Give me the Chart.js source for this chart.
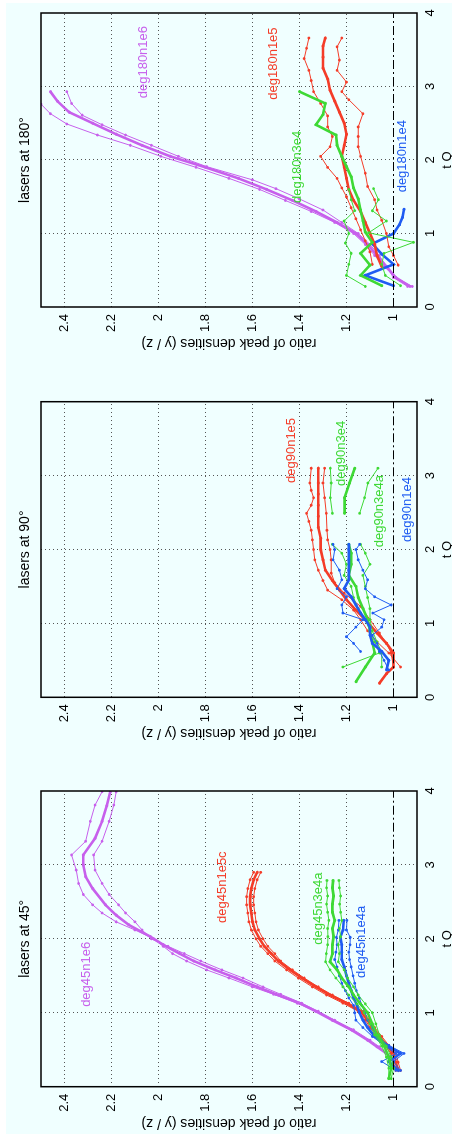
<!DOCTYPE html>
<html>
<head>
<meta charset="utf-8">
<script src="https://cdn.jsdelivr.net/npm/chart.js@4.4.1/dist/chart.umd.min.js"></script>
<style>
html, body { margin: 0; padding: 0; background: #fff; }
body { width: 452px; height: 1147px; position: relative; overflow: hidden; }
#page { position: absolute; left: 6px; top: 3px; width: 446px; height: 1131px; background: #f0ffff; }
canvas { position: absolute; transform-origin: 0 0; transform: rotate(-90deg); }
</style>
</head>
<body>
<div id="page"></div>
<canvas id="c180" width="377" height="446" style="left:6px;top:380px"></canvas>
<canvas id="c90" width="380" height="446" style="left:6px;top:760px"></canvas>
<canvas id="c45" width="374" height="446" style="left:6px;top:1134px"></canvas>
<script>
// axis ticks
var tqTicks = [0, 1, 2, 3, 4];
var ratioTicks = [1, 1.2, 1.4, 1.6, 1.8, 2, 2.2, 2.4];
var refRatio = 1;

// ---- lasers at 180 ----
var p180PurpleMidTq = [0.28,0.4,0.55,0.7,0.85,1.0,1.15,1.3,1.45,1.6,1.75,1.9,2.05,2.2,2.35,2.5,2.65,2.8,2.93];
var p180PurpleMid   = [0.93,0.99,1.03,1.07,1.11,1.16,1.24,1.33,1.43,1.54,1.66,1.80,1.95,2.07,2.18,2.28,2.38,2.43,2.46];
var p180PurpleHiTq  = [0.28,0.4,0.55,0.7,0.85,1.0,1.15,1.3,1.45,1.6,1.75,1.9,2.05,2.2,2.34,2.49,2.63,2.76];
var p180PurpleHi    = [0.92,0.99,1.04,1.08,1.12,1.17,1.25,1.35,1.46,1.57,1.70,1.84,1.99,2.12,2.26,2.39,2.46,2.50];
var p180PurpleLoTq  = [0.28,0.4,0.55,0.7,0.85,1.0,1.15,1.32,1.47,1.61,1.73,1.91,2.05,2.2,2.34,2.48,2.61,2.77,2.93];
var p180PurpleLo    = [0.94,1.0,1.03,1.06,1.10,1.15,1.22,1.30,1.40,1.50,1.60,1.795,1.915,2.03,2.14,2.24,2.325,2.37,2.39];

var p180RedMidTq = [0.55,0.7,0.85,1.0,1.15,1.3,1.45,1.6,1.75,1.9,2.05,2.2,2.35,2.5,2.65,2.8,2.95,3.1,3.25,3.4,3.55,3.66];
var p180RedMid   = [1.05,1.07,1.08,1.10,1.12,1.14,1.17,1.19,1.20,1.21,1.22,1.21,1.20,1.21,1.23,1.25,1.27,1.28,1.30,1.30,1.30,1.29];
var p180RedHiTq  = [0.58,0.75,0.9,1.05,1.2,1.35,1.5,1.62,1.75,1.9,2.05,2.18,2.32,2.45,2.6,2.77,2.93,3.08,3.22,3.38,3.52,3.66];
var p180RedHi    = [1.09,1.10,1.12,1.14,1.16,1.18,1.20,1.22,1.24,1.28,1.31,1.27,1.26,1.28,1.28,1.31,1.34,1.35,1.36,1.38,1.37,1.36];
var p180RedLoTq  = [0.57,0.7,0.82,1.0,1.18,1.32,1.46,1.64,1.82,2.05,2.18,2.32,2.45,2.63,2.82,2.93,3.06,3.22,3.36,3.54,3.66];
var p180RedLo    = [0.98,1.0,1.02,1.03,1.05,1.07,1.08,1.11,1.12,1.14,1.15,1.15,1.15,1.13,1.19,1.22,1.20,1.24,1.23,1.24,1.22];

var p180GreenMidTq = [0.29,0.43,0.57,0.73,0.88,1.02,1.17,1.32,1.47,1.62,1.77,1.91,2.05,2.2,2.34,2.48,2.62,2.77,2.93];
var p180GreenMid   = [1.05,1.14,1.10,1.14,1.09,1.12,1.13,1.14,1.15,1.17,1.18,1.20,1.22,1.24,1.245,1.33,1.30,1.29,1.40];
var p180GreenHiTq  = [0.28,0.43,0.58,0.73,0.87,1.0,1.17,1.31,1.46,1.6];
var p180GreenHi    = [1.12,1.20,1.19,1.18,1.205,1.19,1.21,1.165,1.18,1.19];
var p180GreenLoTq  = [0.29,0.43,0.58,0.73,0.88,1.01,1.17,1.31,1.46,1.61];
var p180GreenLo    = [0.97,1.035,1.05,1.04,0.915,1.106,1.03,1.09,1.064,1.085];

var p180BlueTq = [0.29,0.43,0.58,0.72,0.86,1.0,1.12,1.22,1.33];
var p180Blue   = [1.0,1.12,1.0,1.05,1.09,1.0,0.975,0.962,0.955];

// ---- lasers at 90 ----
var p90RedMidTq = [0.19,0.32,0.41,0.6,0.73,0.87,1.05,1.18,1.32,1.45,1.58,1.72,1.86,2.0,2.15,2.3,2.45,2.6,2.75,2.9,3.1];
var p90RedMid   = [1.06,1.03,1.0,1.0,1.03,1.07,1.12,1.16,1.20,1.23,1.26,1.29,1.30,1.31,1.31,1.32,1.32,1.32,1.32,1.32,1.32];
var p90RedHiTq  = [0.41,0.6,0.75,0.9,1.05,1.18,1.32,1.45,1.58,1.72,1.86,2.0,2.13,2.26,2.38,2.49,2.6,2.7,2.8,2.9,3.1];
var p90RedHi    = [0.97,1.02,1.07,1.11,1.14,1.17,1.22,1.28,1.30,1.32,1.335,1.34,1.345,1.35,1.36,1.37,1.35,1.34,1.35,1.356,1.35];
var p90RedLoTq  = [0.41,0.6,0.73,0.87,1.05,1.23,1.41,1.55,1.68,1.86,2.0,2.13,2.26,2.49,2.7,2.9,3.1];
var p90RedLo    = [1.0,1.01,1.03,1.06,1.10,1.14,1.21,1.25,1.265,1.265,1.27,1.28,1.283,1.286,1.293,1.30,1.293];

var p90GreenLowTq  = [0.41,0.6,0.75,0.9,1.05,1.2,1.35,1.5,1.65,1.8,1.95,2.07];
var p90GreenMidTq  = [0.21,0.41,0.6,0.75,0.9,1.05,1.2,1.35,1.5,1.65,1.8,1.95,2.07];
var p90GreenMid    = [1.16,1.12,1.08,1.09,1.10,1.11,1.13,1.15,1.16,1.19,1.18,1.18,1.19];
var p90GreenHi     = [1.215,1.06,1.08,1.10,1.12,1.15,1.17,1.18,1.21,1.20,1.22,1.26];
var p90GreenLo     = [1.05,1.05,1.07,1.09,1.10,1.10,1.11,1.12,1.13,1.10,1.12,1.14];
var p90GreenTopTq  = [2.49,2.7,2.9,3.1];
var p90GreenTopMid = [1.208,1.208,1.187,1.165];
var p90GreenTopHi  = [1.26,1.269,1.265,1.269];
var p90GreenTopLo  = [1.144,1.123,1.109,1.066];

var p90BlueTq     = [0.37,0.5,0.62,0.73,0.84,0.95,1.05,1.14,1.25,1.36,1.47,1.59,1.72,1.86,2.0,2.07];
var p90BlueMid    = [1.03,1.02,1.05,1.09,1.10,1.10,1.12,1.14,1.16,1.18,1.21,1.19,1.19,1.19,1.19,1.19];
var p90BlueLo     = [1.02,1.04,1.06,1.07,1.09,1.05,1.04,1.088,1.01,1.08,1.12,1.11,1.13,1.15,1.16,1.144];
var p90BlueHiTq   = [0.62,0.73,0.82,0.95,1.05,1.14,1.25,1.36,1.47,1.59,1.72,1.86,2.0,2.07];
var p90BlueHi     = [1.14,1.17,1.20,1.16,1.13,1.215,1.22,1.20,1.24,1.22,1.23,1.257,1.25,1.257];

// ---- lasers at 45 ----
var p45PurpleMidTq = [0.36,0.45,0.54,0.63,0.77,0.9,1.02,1.13,1.25,1.35,1.47,1.58,1.7,1.8,1.92,2.03,2.19,2.32,2.46,2.68,2.84,3.0,3.135,3.36,3.59,3.8,3.99];
var p45PurpleMid   = [1.0,1.03,1.07,1.11,1.18,1.26,1.33,1.40,1.50,1.58,1.67,1.76,1.85,1.91,1.98,2.035,2.127,2.18,2.226,2.28,2.31,2.32,2.32,2.27,2.24,2.22,2.205];
var p45PurpleSideTq = [0.36,0.45,0.54,0.63,0.77,0.9,1.02,1.13,1.25,1.35,1.47,1.58,1.7,1.8,1.9,2.0,2.12,2.23,2.35,2.46,2.6,2.75,2.93,3.135,3.32,3.59,3.81,3.99];
var p45PurpleHi    = [1.0,1.03,1.07,1.11,1.18,1.26,1.33,1.41,1.51,1.60,1.70,1.795,1.88,1.94,1.98,2.02,2.10,2.18,2.24,2.28,2.32,2.34,2.35,2.37,2.31,2.29,2.27,2.24];
var p45PurpleLo    = [1.0,1.03,1.06,1.10,1.17,1.25,1.32,1.39,1.48,1.555,1.64,1.73,1.82,1.89,1.96,2.03,2.07,2.10,2.14,2.17,2.21,2.24,2.27,2.276,2.24,2.21,2.19,2.18];

var p45RedTq  = [0.22,0.33,0.45,0.56,0.68,0.8,0.9,1.02,1.13,1.24,1.35,1.47,1.58,1.7,1.8,1.9,2.0,2.12,2.23,2.35,2.46,2.57,2.68,2.8,2.9];
var p45RedMid = [0.98,0.99,1.0,1.03,1.06,1.09,1.11,1.14,1.20,1.27,1.33,1.39,1.44,1.49,1.52,1.55,1.57,1.59,1.60,1.605,1.61,1.61,1.605,1.595,1.58];
var p45RedHi  = [0.99,1.0,1.01,1.04,1.07,1.10,1.12,1.15,1.215,1.285,1.345,1.405,1.455,1.505,1.535,1.565,1.585,1.605,1.615,1.62,1.625,1.625,1.62,1.61,1.595];
var p45RedLo  = [0.97,0.98,0.99,1.02,1.05,1.08,1.10,1.13,1.19,1.26,1.32,1.38,1.43,1.48,1.505,1.535,1.555,1.575,1.585,1.59,1.595,1.595,1.59,1.58,1.565];

var p45GreenTq  = [0.11,0.25,0.4,0.55,0.7,0.85,1.0,1.12,1.24,1.35,1.47,1.58,1.69,1.8,1.92,2.03,2.14,2.25,2.36,2.47,2.58,2.69,2.79];
var p45GreenMid = [1.02,1.01,1.02,1.04,1.07,1.09,1.11,1.14,1.17,1.19,1.22,1.24,1.27,1.26,1.26,1.255,1.26,1.25,1.26,1.26,1.255,1.26,1.257];
var p45GreenHi  = [1.02,1.02,1.03,1.05,1.08,1.10,1.125,1.155,1.19,1.215,1.245,1.27,1.289,1.286,1.28,1.279,1.28,1.275,1.28,1.285,1.28,1.285,1.283];
var p45GreenLo  = [1.01,1.0,1.01,1.03,1.06,1.075,1.09,1.12,1.15,1.17,1.195,1.21,1.235,1.23,1.235,1.225,1.23,1.22,1.225,1.229,1.225,1.23,1.232];

var p45BlueTq  = [0.22,0.34,0.45,0.56,0.68,0.8,0.9,1.0,1.1,1.2,1.3,1.4,1.5,1.62,1.72,1.82,1.92,2.02,2.12,2.25];
var p45BlueMid = [0.98,1.02,0.97,1.03,1.08,1.11,1.13,1.145,1.155,1.17,1.18,1.19,1.20,1.21,1.22,1.22,1.22,1.226,1.215,1.212];
var p45BlueHi  = [0.99,1.05,0.99,1.04,1.09,1.13,1.16,1.165,1.17,1.19,1.205,1.22,1.23,1.24,1.25,1.245,1.24,1.243,1.235,1.232];
var p45BlueLo  = [0.97,1.0,0.955,1.02,1.07,1.09,1.11,1.12,1.135,1.145,1.158,1.165,1.172,1.18,1.187,1.19,1.185,1.184,1.20,1.198];

// curve labels (text, start tQ, ratio)
var names180 = ['deg180n1e6', 'deg180n1e5', 'deg180n3e4', 'deg180n1e4'];
var labelTq180 = [2.84, 2.82, 1.415, 1.56];
var labelR180 = [2.065, 1.513, 1.407, 0.96];
var names90 = ['deg90n1e5', 'deg90n3e4', 'deg90n3e4a', 'deg90n1e4'];
var labelTq90 = [2.9, 2.86, 2.03, 2.1];
var labelR90 = [1.433, 1.22, 1.06, 0.94];
var names45 = ['deg45n1e6', 'deg45n1e5c', 'deg45n3e4a', 'deg45n1e4a'];
var labelTq45 = [1.08, 2.215, 1.92, 1.47];
var labelR45 = [2.307, 1.73, 1.32, 1.136];

var FONT = '"Liberation Sans", Arial, Helvetica, sans-serif';
var PURPLE = '#c760ec', RED = '#f43c28', GREEN = '#3ed935', BLUE = '#1f5cf2';
Chart.defaults.font.family = FONT;

function line(tq, r, color, thick) {
    return {
        data: tq.map(function(t, i) { return {x: t, y: r[i]}; }),
        borderColor: color,
        backgroundColor: color,
        borderWidth: thick ? 2.6 : 1,
        pointRadius: thick ? 1.5 : 1.4,
        pointBorderWidth: 0,
        showLine: true,
        tension: 0
    };
}

function refLine() {
    return {
        data: [{x: tqTicks[0], y: refRatio}, {x: tqTicks[tqTicks.length - 1], y: refRatio}],
        borderColor: '#000', borderWidth: 1.2, borderDash: [9, 3, 2, 3],
        pointRadius: 0, showLine: true
    };
}

// frame, titles and curve labels
var textPlugin = {
    id: 'texts',
    afterDraw: function(chart, args, opts) {
        var ctx = chart.ctx, a = chart.chartArea, sx = chart.scales.x, sy = chart.scales.y;
        var cx = (a.left + a.right) / 2;
        ctx.save();
        ctx.strokeStyle = '#000';
        ctx.lineWidth = 1.5;
        ctx.strokeRect(a.left, a.top, a.right - a.left, a.bottom - a.top);
        ctx.fillStyle = '#000';
        ctx.textAlign = 'center';
        ctx.textBaseline = 'middle';
        ctx.font = '14px ' + FONT;
        ctx.fillText(opts.title, cx, 19);
        ctx.font = '13px ' + FONT;
        ctx.fillText('t Q', cx, 441);
        ctx.save();
        ctx.translate(a.left - 36, (a.top + a.bottom) / 2);
        ctx.rotate(-Math.PI / 2);
        ctx.font = '14px ' + FONT;
        ctx.fillText('ratio of peak densities (y / z)', 0, 0);
        ctx.restore();
        ctx.textAlign = 'left';
        ctx.font = '13px ' + FONT;
        opts.names.forEach(function(n, i) {
            ctx.fillStyle = opts.colors[i];
            ctx.fillText(n, sx.getPixelForValue(opts.tq[i]), sy.getPixelForValue(opts.r[i]));
        });
        ctx.restore();
    }
};

function gridColor(skip) {
    return function(c) {
        if (c.tick && skip.indexOf(c.tick.value) >= 0) return 'rgba(0,0,0,0)';
        return '#555';
    };
}

function makePanel(id, plotLeft, plotRight, datasets, texts) {
    var canvas = document.getElementById(id);
    new Chart(canvas, {
        type: 'scatter',
        data: {datasets: datasets},
        options: {
            responsive: false,
            animation: false,
            devicePixelRatio: 1,
            layout: {padding: {left: plotLeft - 30, right: canvas.width - plotRight, top: 35, bottom: 15}},
            plugins: {legend: {display: false}, tooltip: {enabled: false}, texts: texts},
            scales: {
                x: {
                    type: 'linear', min: 0, max: 4,
                    afterBuildTicks: function(s) { s.ticks = tqTicks.map(function(v) { return {value: v}; }); },
                    afterFit: function(s) { s.height = 20; },
                    grid: {color: gridColor([0, 4]), lineWidth: 1, drawTicks: false},
                    border: {display: false, dash: [1, 3]},
                    ticks: {padding: 6, color: '#000', font: {size: 13}, maxRotation: 0}
                },
                y: {
                    type: 'linear', min: 0.9, max: 2.5,
                    afterBuildTicks: function(s) { s.ticks = ratioTicks.map(function(v) { return {value: v}; }); },
                    afterFit: function(s) { s.width = 30; },
                    grid: {color: gridColor([refRatio]), lineWidth: 1, drawTicks: false},
                    border: {display: false, dash: [1, 3]},
                    ticks: {padding: 7, color: '#000', font: {size: 13}, callback: function(v) { return String(v); }}
                }
            }
        },
        plugins: [textPlugin]
    });
}

makePanel('c180', 73, 367, [
    refLine(),
    line(p180GreenHiTq, p180GreenHi, GREEN), line(p180GreenLoTq, p180GreenLo, GREEN),
    line(p180GreenMidTq, p180GreenMid, GREEN, true),
    line(p180RedHiTq, p180RedHi, RED), line(p180RedLoTq, p180RedLo, RED),
    line(p180RedMidTq, p180RedMid, RED, true),
    line(p180BlueTq, p180Blue, BLUE, true),
    line(p180PurpleHiTq, p180PurpleHi, PURPLE), line(p180PurpleLoTq, p180PurpleLo, PURPLE),
    line(p180PurpleMidTq, p180PurpleMid, PURPLE, true)
], {title: 'lasers at 180\u00B0', names: names180, tq: labelTq180, r: labelR180, colors: [PURPLE, RED, GREEN, BLUE]});

makePanel('c90', 62.7, 358.3, [
    refLine(),
    line(p90BlueHiTq, p90BlueHi, BLUE), line(p90BlueTq, p90BlueLo, BLUE),
    line(p90BlueTq, p90BlueMid, BLUE, true),
    line(p90GreenLowTq, p90GreenHi, GREEN), line(p90GreenLowTq, p90GreenLo, GREEN),
    line(p90GreenMidTq, p90GreenMid, GREEN, true),
    line(p90GreenTopTq, p90GreenTopHi, GREEN), line(p90GreenTopTq, p90GreenTopLo, GREEN),
    line(p90GreenTopTq, p90GreenTopMid, GREEN, true),
    line(p90RedHiTq, p90RedHi, RED), line(p90RedLoTq, p90RedLo, RED),
    line(p90RedMidTq, p90RedMid, RED, true)
], {title: 'lasers at 90\u00B0', names: names90, tq: labelTq90, r: labelR90, colors: [RED, GREEN, GREEN, BLUE]});

makePanel('c45', 47.3, 343, [
    refLine(),
    line(p45GreenTq, p45GreenHi, GREEN), line(p45GreenTq, p45GreenLo, GREEN),
    line(p45GreenTq, p45GreenMid, GREEN, true),
    line(p45BlueTq, p45BlueHi, BLUE), line(p45BlueTq, p45BlueLo, BLUE),
    line(p45BlueTq, p45BlueMid, BLUE, true),
    line(p45PurpleSideTq, p45PurpleHi, PURPLE), line(p45PurpleSideTq, p45PurpleLo, PURPLE),
    line(p45PurpleMidTq, p45PurpleMid, PURPLE, true),
    line(p45RedTq, p45RedHi, RED), line(p45RedTq, p45RedLo, RED),
    line(p45RedTq, p45RedMid, RED, true)
], {title: 'lasers at 45\u00B0', names: names45, tq: labelTq45, r: labelR45, colors: [PURPLE, RED, GREEN, BLUE]});
</script>
</body>
</html>
